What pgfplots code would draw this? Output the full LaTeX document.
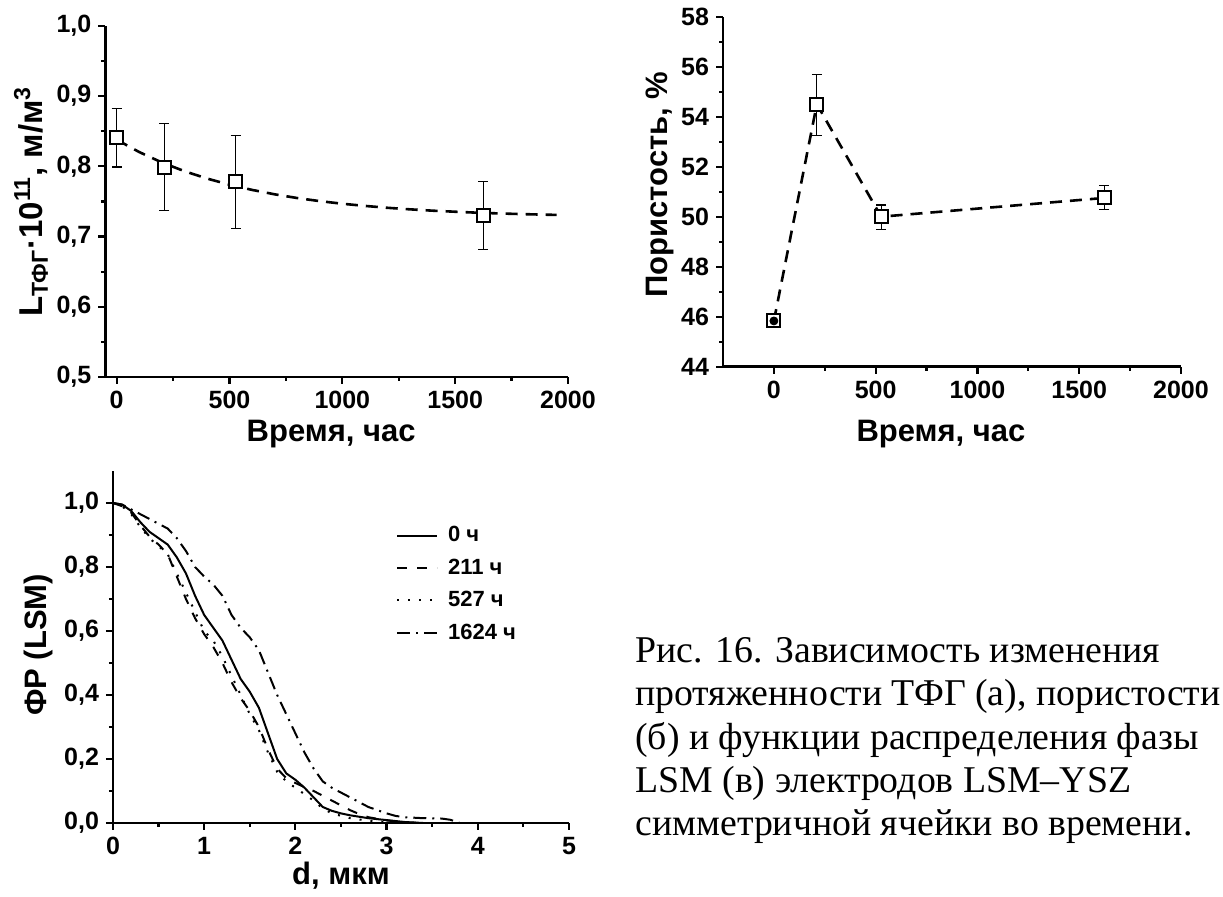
\documentclass[border=0pt]{standalone}
\usepackage{fontspec}
\setmainfont{Liberation Sans}
\newfontfamily\capfont{Liberation Serif}
\usepackage{pgfplots}
\pgfplotsset{compat=1.18}

\pgfplotstableread{
x y e
0 0.841 0.042
211 0.799 0.062
527 0.778 0.066
1624 0.730 0.048
}\tfgdata

\pgfplotstableread{
x y ep em
211 54.50 1.20 1.25
527 50.00 0.47 0.50
1624 50.75 0.50 0.45
}\pordata

\pgfplotstableread{
x y
0 45.83
211 54.50
527 50.00
1624 50.75
}\porline

\pgfplotsset{
  myaxis/.style={
    scale only axis,
    anchor=south west,
    axis lines*=left,
    axis line style={-, line width=1.2pt},
    tick align=outside,
    major tick length=3.5pt,
    minor tick length=2pt,
    every tick/.style={black, line width=1.1pt},
    minor tick num=1,
    tick label style={font=\bfseries\fontsize{12.5}{12.5}\selectfont},
    label style={font=\bfseries\fontsize{15.5}{15.5}\selectfont},
    /pgf/number format/assume math mode=true,
    /pgf/number format/1000 sep={},
    clip=false,
  },
  commay/.style={yticklabel style={/pgf/number format/.cd, use comma, fixed, fixed zerofill, precision=1}},
  sq/.style={only marks, mark=square*, mark size=3.25pt, mark options={fill=white, draw=black, line width=1pt, solid}},
  eb/.style={only marks, mark=none, error bars/.cd, y dir=both, y explicit,
    error bar style={line width=0.6pt, black, solid},
    error mark options={rotate=90, mark size=2.5pt, line width=0.6pt, black}},
}

\begin{document}
\begin{tikzpicture}
\useasboundingbox (0,0) rectangle (611.5pt,448.5pt);

% (a)
\begin{axis}[myaxis, commay, at={(52.7pt,260pt)}, width=231.3pt, height=175.5pt,
  xmin=-50, xmax=2000, ymin=0.5, ymax=1.0,
  xtick={0,500,1000,1500,2000}, ytick={0.5,0.6,0.7,0.8,0.9,1.0},
  xlabel={Время, час},
  ylabel={L\textsubscript{ТФГ}·10\textsuperscript{11}, м/м\textsuperscript{3}},
  xlabel style={at={(axis description cs:0.488,-0.185)}, anchor=base},
  ylabel style={at={(axis description cs:-0.161,0.5)}, anchor=center, font=\bfseries\fontsize{16.5}{16.5}\selectfont},
]
\addplot[black, line width=1.3pt, dash pattern=on 6pt off 4pt] coordinates {
(0,0.838) (100,0.8204) (200,0.8056) (300,0.7932) (400,0.7827) (500,0.7739)
(600,0.7665) (700,0.7602) (800,0.7549) (900,0.7505) (1000,0.7468) (1100,0.7437)
(1200,0.7410) (1300,0.7388) (1400,0.7369) (1500,0.7354) (1600,0.7340)
(1700,0.7329) (1800,0.7320) (1900,0.7312) (1950,0.7309)};
\addplot[eb] table[x=x, y=y, y error=e] {\tfgdata};
\addplot[sq] table[x=x, y=y] {\tfgdata};
\end{axis}

% (b)
\begin{axis}[myaxis, at={(361.5pt,265.15pt)}, width=229pt, height=175pt,
  xmin=-250, xmax=2000, ymin=44, ymax=58,
  xtick={0,500,1000,1500,2000}, ytick={44,46,...,58},
  xlabel={Время, час},
  ylabel={Пористость, \%},
  xlabel style={at={(axis description cs:0.476,-0.215)}, anchor=base},
  ylabel style={at={(axis description cs:-0.138,0.52)}, anchor=center},
]
\addplot[black, line width=1.3pt, dash pattern=on 6pt off 4pt] table[x=x, y=y] {\porline};
\addplot[eb] table[x=x, y=y, y error plus=ep, y error minus=em] {\pordata};
\addplot[sq] table[x=x, y=y] {\porline};
\addplot[only marks, mark=none, error bars/.cd, y dir=both, y explicit,
    error bar style={line width=0.5pt, black, solid},
    error mark options={rotate=90, mark size=2.2pt, line width=0.5pt, black}]
  coordinates {(0,45.83) +- (0,0.1)};
\end{axis}

% (c)
\begin{axis}[myaxis, commay, at={(56.5pt,37pt)}, width=228pt, height=176pt,
  xmin=0, xmax=5, ymin=0, ymax=1.1,
  xtick={0,1,2,3,4,5}, ytick={0,0.2,0.4,0.6,0.8,1.0},
  xlabel={d, мкм},
  ylabel={ФР (LSM)},
  xlabel style={at={(axis description cs:0.5,-0.176)}, anchor=base},
  ylabel style={at={(axis description cs:-0.164,0.506)}, anchor=center},
  legend style={draw=none, fill=none, at={(axis cs:3.1,0.94)}, anchor=north west,
    font=\bfseries\fontsize{11}{11}\selectfont, row sep=3pt, inner sep=0pt,
    /tikz/every odd column/.append style={column sep=3pt}},
  legend cell align=left,
  legend image code/.code={\draw[#1] (0pt,0pt) -- (20pt,0pt);},
]
\addplot[black, line width=1pt] coordinates {
(0,1.0) (0.1,0.995) (0.2,0.975) (0.3,0.94) (0.4,0.91) (0.5,0.89) (0.6,0.87)
(0.7,0.83) (0.8,0.78) (0.9,0.71) (1.0,0.65) (1.1,0.61) (1.2,0.57) (1.3,0.51)
(1.4,0.45) (1.5,0.41) (1.6,0.36) (1.7,0.28) (1.8,0.2) (1.9,0.155) (2.0,0.135)
(2.1,0.11) (2.2,0.08) (2.3,0.05) (2.4,0.038) (2.5,0.03) (2.6,0.024) (2.8,0.015)
(3.0,0.009) (3.2,0.003) (3.4,0.0)};
\addlegendentry{0 ч}
\addplot[black, line width=1pt, dash pattern=on 5pt off 5pt] coordinates {
(0,1.0) (0.1,0.99) (0.2,0.97) (0.3,0.93) (0.4,0.895) (0.5,0.87) (0.6,0.84)
(0.7,0.77) (0.8,0.7) (0.9,0.64) (1.0,0.59) (1.1,0.55) (1.2,0.5) (1.3,0.44)
(1.4,0.39) (1.5,0.35) (1.6,0.3) (1.7,0.23) (1.8,0.17) (1.9,0.14) (2.0,0.125)
(2.1,0.112) (2.2,0.1) (2.3,0.085) (2.4,0.07) (2.5,0.055) (2.6,0.04) (2.7,0.028)
(2.8,0.018) (3.0,0.008) (3.2,0.002) (3.4,0.0)};
\addlegendentry{211 ч}
\addplot[black, line width=1pt, dash pattern=on 1pt off 4.5pt] coordinates {
(0,1.0) (0.1,0.99) (0.2,0.965) (0.3,0.925) (0.4,0.89) (0.5,0.865) (0.6,0.84)
(0.7,0.78) (0.8,0.72) (0.9,0.66) (1.0,0.6) (1.1,0.57) (1.2,0.52) (1.3,0.46)
(1.4,0.4) (1.5,0.34) (1.6,0.29) (1.7,0.22) (1.8,0.16) (1.9,0.13) (2.0,0.11)
(2.1,0.09) (2.2,0.07) (2.3,0.045) (2.4,0.03) (2.6,0.015) (2.8,0.007) (3.0,0.002)
(3.1,0.0)};
\addlegendentry{527 ч}
\addplot[black, line width=1pt, dash pattern=on 6.5pt off 3pt on 1pt off 3pt] coordinates {
(0,1.0) (0.1,0.995) (0.2,0.98) (0.3,0.965) (0.4,0.95) (0.5,0.935) (0.6,0.92)
(0.7,0.89) (0.8,0.85) (0.9,0.8) (1.0,0.77) (1.1,0.745) (1.2,0.71) (1.3,0.65)
(1.4,0.61) (1.5,0.58) (1.6,0.54) (1.7,0.47) (1.8,0.4) (1.9,0.34) (2.0,0.28)
(2.1,0.22) (2.2,0.17) (2.3,0.13) (2.4,0.11) (2.5,0.095) (2.6,0.08) (2.7,0.065)
(2.8,0.05) (2.9,0.04) (3.0,0.03) (3.1,0.022) (3.2,0.018) (3.4,0.015) (3.6,0.014)
(3.7,0.01) (3.8,0.0)};
\addlegendentry{1624 ч}
\end{axis}

% caption
\begin{scope}[every node/.style={anchor=base west, inner sep=0pt, font=\capfont\fontsize{18.9}{21.65}\selectfont}]
\node at (317.5pt,117.25pt) {Рис. 16. Зависимость изменения};
\node at (317.5pt,95.6pt) {протяженности ТФГ (а), пористости};
\node at (317.5pt,73.9pt) {(б) и функции распределения фазы};
\node at (317.5pt,52.25pt) {LSM (в) электродов LSM–YSZ};
\node at (317.5pt,30.6pt) {симметричной ячейки во времени.};
\end{scope}
\end{tikzpicture}
\end{document}
